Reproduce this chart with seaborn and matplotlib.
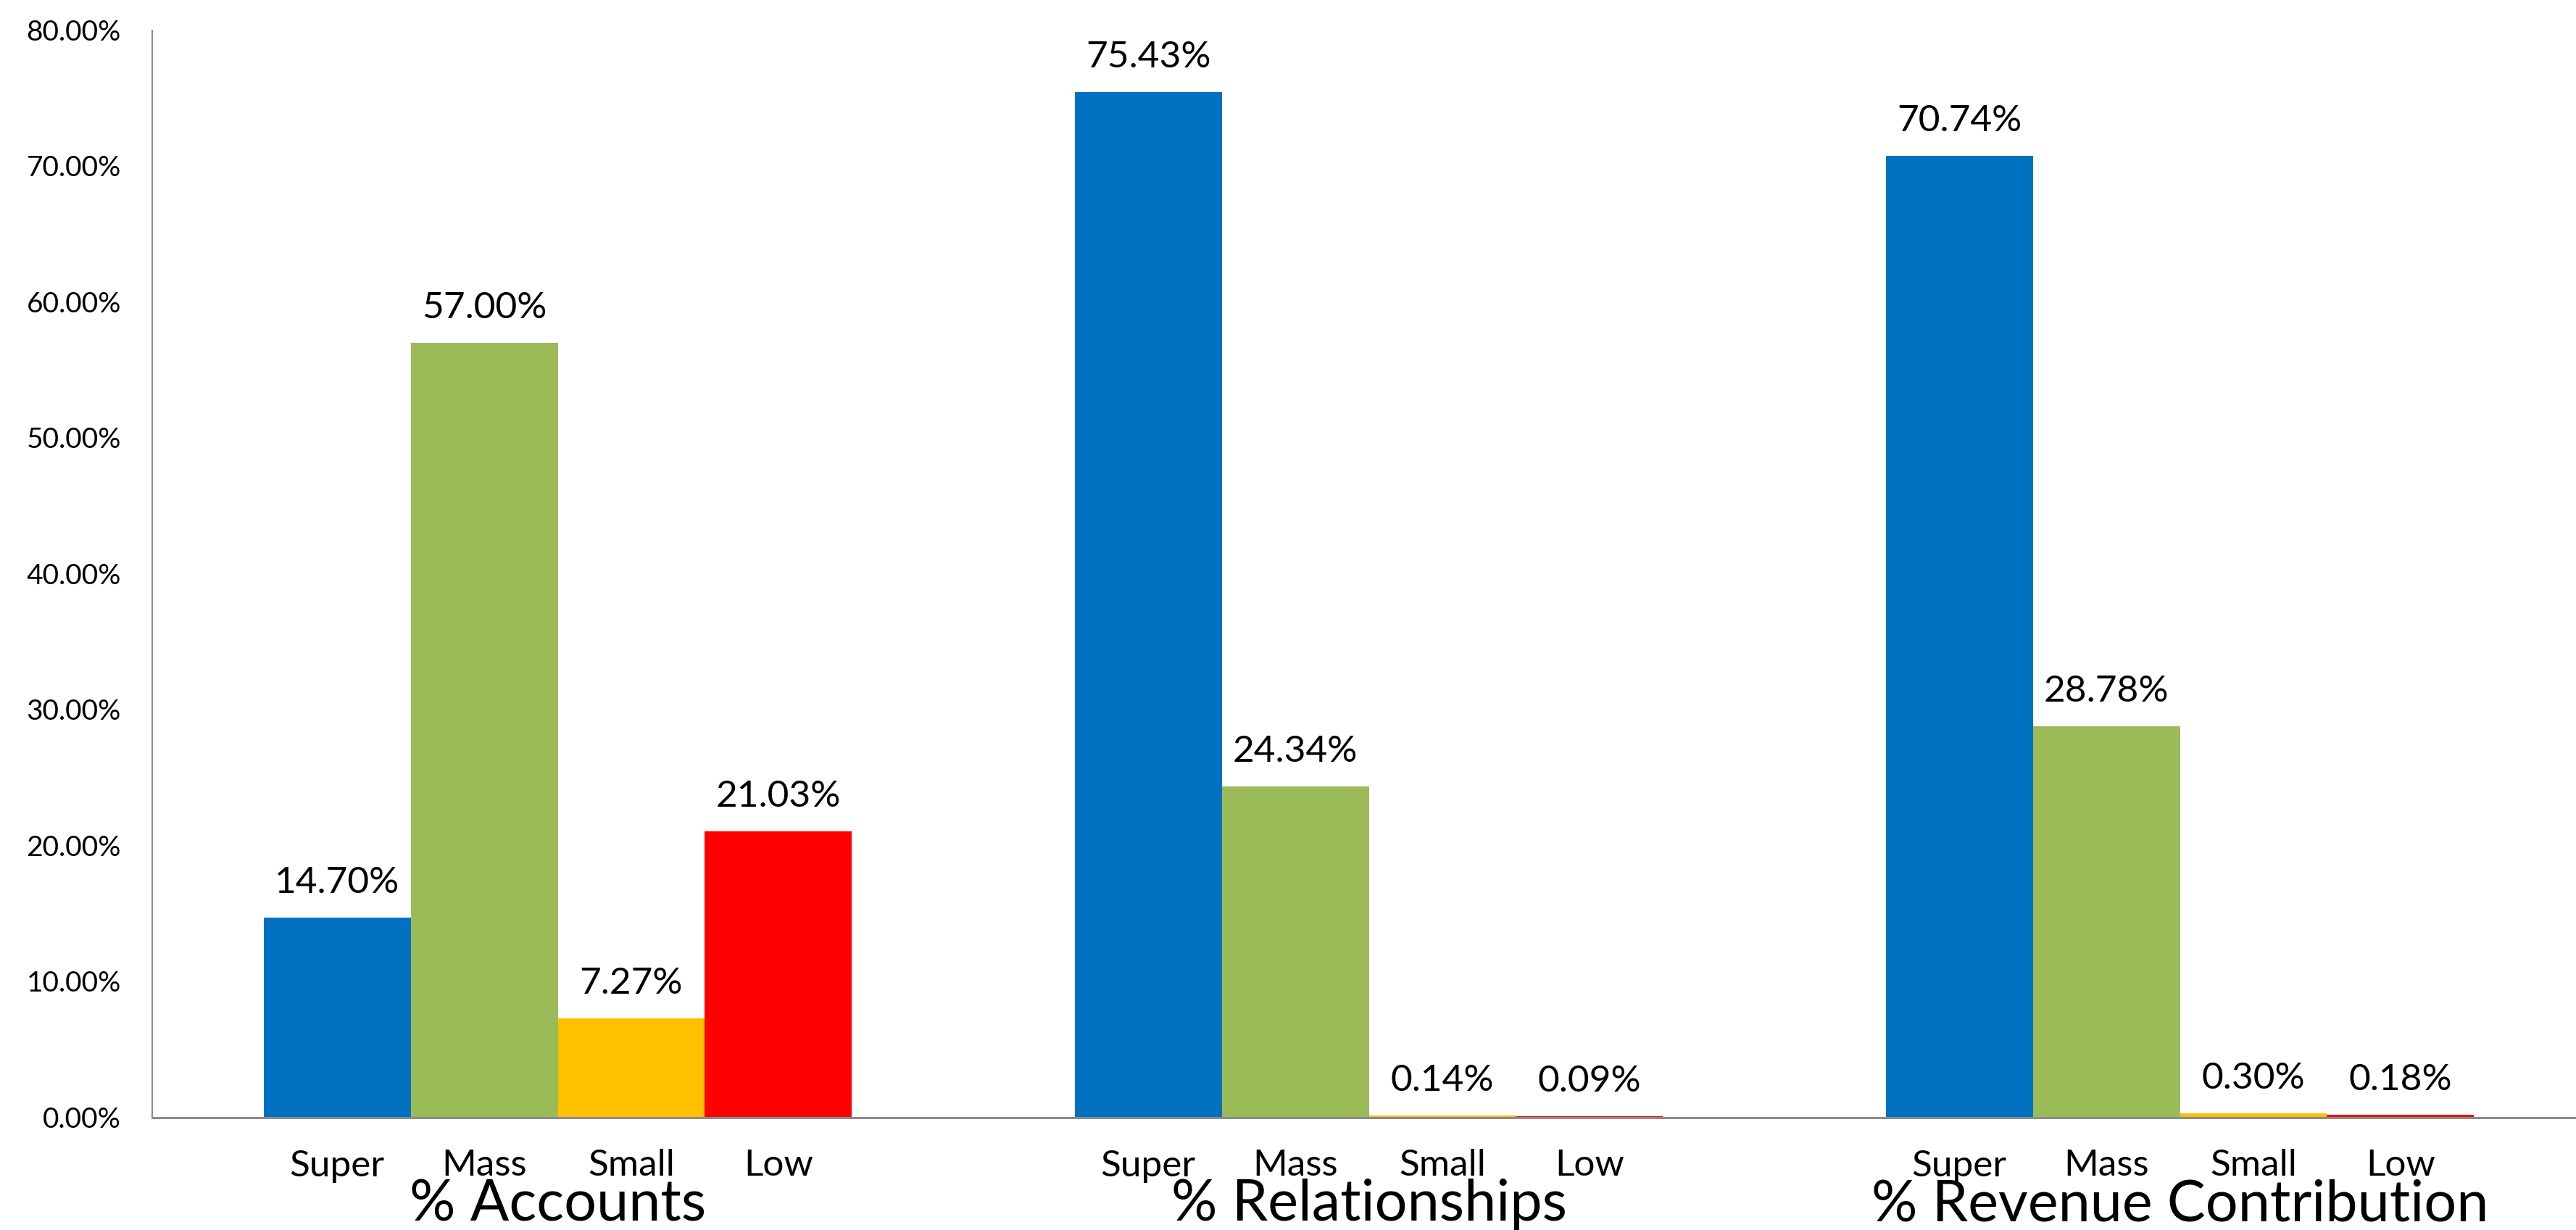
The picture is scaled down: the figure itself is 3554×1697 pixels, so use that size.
"""Grouped bar chart: share of accounts, relationships and revenue by segment."""
import matplotlib
matplotlib.use("Agg")
import matplotlib.pyplot as plt
import pandas as pd
import seaborn as sns
from matplotlib.ticker import MultipleLocator, PercentFormatter

# data (fractions)
metrics = ["% Accounts", "% Relationships", "% Revenue Contribution"]
segments = ["Super", "Mass", "Small", "Low"]
super_vals = [0.1470, 0.7543, 0.7074]
mass_vals = [0.5700, 0.2434, 0.2878]
small_vals = [0.0727, 0.0014, 0.0030]
low_vals = [0.2103, 0.0009, 0.0018]

colors = {"Super": "#0070C0", "Mass": "#9BBB59", "Small": "#FFC000", "Low": "#FF0000"}

rows = []
for seg, vals in zip(segments, [super_vals, mass_vals, small_vals, low_vals]):
    for m, v in zip(metrics, vals):
        rows.append({"metric": m, "segment": seg, "value": v})
df = pd.DataFrame(rows)

sns.set_theme(style="white")
plt.rcParams["font.family"] = ["Lato", "DejaVu Sans"]

DPI = 100
PX = 72 / DPI  # points per pixel
fig = plt.figure(figsize=(35.54, 16.97), dpi=DPI)
ax = fig.add_axes([210 / 3554, 155.5 / 1697, 3357 / 3554, 1500 / 1697])

sns.barplot(
    data=df, x="metric", y="value", hue="segment",
    order=metrics, hue_order=segments, palette=colors,
    width=0.7256, saturation=1, legend=False, linewidth=0, ax=ax,
)

ax.set_xlim(-0.5, len(metrics) - 0.5)
ax.set_ylim(0, 0.8)
ax.yaxis.set_major_locator(MultipleLocator(0.1))
ax.yaxis.set_major_formatter(PercentFormatter(xmax=1, decimals=2))
ax.set_xlabel("")
ax.set_ylabel("")

# spines / ticks
grey = "#8C8C8C"
sns.despine(ax=ax, top=True, right=True)
ax.spines["left"].set_color(grey)
ax.spines["left"].set_linewidth(2 * PX)
ax.spines["bottom"].set_color(grey)
ax.spines["bottom"].set_linewidth(3 * PX)

ax.tick_params(axis="y", which="major", direction="out", length=14 * PX,
               width=2 * PX, color=grey, pad=29 * PX, labelsize=28, labelcolor="black")
ax.set_xticks([i - 0.5 for i in range(len(metrics))], minor=True)
ax.tick_params(axis="x", which="minor", direction="out", length=27 * PX,
               width=2 * PX, color=grey)
ax.tick_params(axis="x", which="major", length=0, pad=143 * PX,
               labelsize=57, labelcolor="black")
for lbl in ax.get_xticklabels():
    lbl.set_va("baseline")

# value labels and segment names under each bar
for seg, container in zip(segments, ax.containers):
    ax.bar_label(container, labels=[f"{b.get_height():.2%}" for b in container],
                 padding=18, fontsize=37, color="black")
    for bar in container:
        xc = bar.get_x() + bar.get_width() / 2
        ax.annotate(seg, xy=(xc, 0), xycoords=ax.get_xaxis_transform(),
                    xytext=(0, -81 * PX), textcoords="offset points",
                    ha="center", va="baseline", fontsize=37, color="black",
                    annotation_clip=False)

fig.savefig("out.png", dpi=DPI, facecolor="white")
plt.close(fig)
